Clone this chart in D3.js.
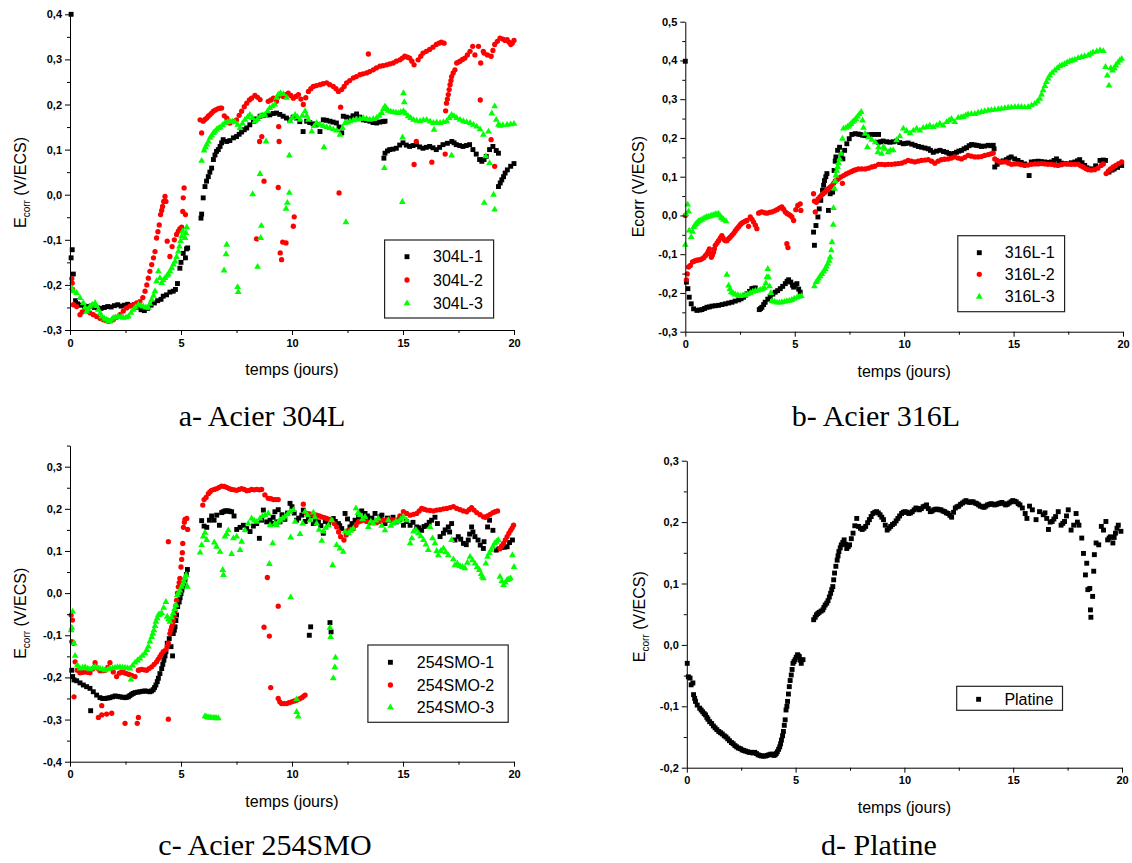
<!DOCTYPE html>
<html><head><meta charset="utf-8">
<script src="https://cdn.jsdelivr.net/npm/d3@7"></script>
<style>body{margin:0;background:#fff} svg{display:block}</style>
</head><body>
<svg id="chart" width="1132" height="863"></svg>
<script>
// ---------- DATA (t in days, E in V/ECS) ----------
const xTicks = [0,5,10,15,20];
const xMinorTicks = [2.5,7.5,12.5,17.5];
const yTicksA = [-0.3,-0.2,-0.1,0.0,0.1,0.2,0.3,0.4];
const yTicksB = [-0.3,-0.2,-0.1,0.0,0.1,0.2,0.3,0.4,0.5];
const yTicksC = [-0.4,-0.3,-0.2,-0.1,0.0,0.1,0.2,0.3];
const yTicksD = [-0.2,-0.1,0.0,0.1,0.2,0.3];

const s304L_1 = [[0.05,0.40],[0.05,-0.14],[0.1,-0.122],[0.15,-0.176],[0.25,-0.235],[0.35,-0.242],[0.5,-0.245],[0.65,-0.247],[0.8,-0.248],[0.95,-0.247],[1.1,-0.25],[1.25,-0.251],[1.4,-0.252],[1.55,-0.25],[1.7,-0.248],[1.85,-0.249],[2.0,-0.246],[2.15,-0.244],[2.3,-0.247],[2.45,-0.245],[2.6,-0.243],[2.75,-0.246],[2.9,-0.244],[3.05,-0.25],[3.2,-0.255],[3.35,-0.257],[3.5,-0.252],[3.65,-0.245],[3.8,-0.24],[3.95,-0.235],[4.1,-0.232],[4.2,-0.225],[4.35,-0.222],[4.5,-0.216],[4.65,-0.214],[4.75,-0.21],[4.84,-0.197],[4.95,-0.163],[5.0,-0.15],[5.1,-0.13],[5.2,-0.14],[5.25,-0.12],[5.3,-0.118],
[5.9,-0.052],[5.93,-0.043],[6.0,-0.007],[6.08,0.018],[6.15,0.03],[6.23,0.04],[6.3,0.05],[6.38,0.059],[6.46,0.078],[6.53,0.088],[6.6,0.096],[6.68,0.1],[6.76,0.107],[6.83,0.115],[6.9,0.122],[7.06,0.118],[7.2,0.12],[7.36,0.126],[7.5,0.129],[7.62,0.134],[7.73,0.139],[7.85,0.144],[7.96,0.148],[8.1,0.155],[8.26,0.163],[8.4,0.168],[8.56,0.174],[8.7,0.176],[8.86,0.177],[9.0,0.177],[9.15,0.18],[9.3,0.181],[9.45,0.178],[9.6,0.174],[9.75,0.17],[9.9,0.166],[10.05,0.172],[10.2,0.17],[10.35,0.162],[10.5,0.14],[10.66,0.163],[10.8,0.16],[10.95,0.157],[11.1,0.155],[11.26,0.14],[11.41,0.166],[11.55,0.165],[11.71,0.163],[11.85,0.161],[12.0,0.159],[12.12,0.15],[12.24,0.137],[12.31,0.174],[12.45,0.172],[12.61,0.17],[12.75,0.175],[12.91,0.179],[13.05,0.172],[13.21,0.166],[13.35,0.165],[13.51,0.163],[13.65,0.16],[13.81,0.159],[13.95,0.161],[14.1,0.162],[14.19,0.163],
[14.14,0.081],[14.19,0.092],[14.3,0.097],[14.4,0.1],[14.55,0.101],[14.7,0.103],[14.85,0.11],[15.0,0.115],[15.15,0.11],[15.3,0.107],[15.45,0.109],[15.6,0.111],[15.75,0.106],[15.9,0.103],[16.05,0.105],[16.2,0.107],[16.35,0.104],[16.5,0.1],[16.65,0.105],[16.8,0.111],[17.0,0.114],[17.2,0.118],[17.3,0.115],[17.4,0.111],[17.55,0.109],[17.7,0.107],[17.85,0.109],[18.0,0.111],[18.15,0.1],[18.3,0.09],[18.45,0.078],[18.55,0.074],[18.65,0.078],[18.75,0.085],[18.9,0.1],[19.05,0.107],[19.2,0.098],[19.3,0.092],
[19.3,0.018],[19.38,0.026],[19.45,0.033],[19.53,0.04],[19.6,0.048],[19.7,0.055],[19.85,0.063],[20.0,0.069]];

const s304L_2 = [[0.08,-0.186],[0.1,-0.196],[0.12,-0.21],[0.15,-0.244],[0.3,-0.248],[0.45,-0.266],[0.55,-0.26],[0.68,-0.255],[0.8,-0.258],[0.9,-0.262],[1.05,-0.266],[1.2,-0.27],[1.35,-0.274],[1.5,-0.277],[1.62,-0.279],[1.73,-0.281],[1.85,-0.279],[1.95,-0.277],[2.1,-0.272],[2.25,-0.266],[2.4,-0.258],[2.55,-0.251],[2.7,-0.247],[2.85,-0.244],[3.0,-0.24],[3.15,-0.237],[3.28,-0.228],[3.38,-0.214],[3.46,-0.2],[3.53,-0.185],[3.6,-0.17],[3.68,-0.155],[3.76,-0.14],[3.83,-0.126],[3.9,-0.096],[3.96,-0.082],[4.02,-0.067],[4.08,-0.044],[4.13,-0.035],[4.17,-0.026],[4.22,-0.015],[4.28,-0.004],[4.32,-0.015],[4.38,-0.103],[4.5,-0.137],[4.6,-0.115],[4.7,-0.1],[4.8,-0.088],[4.88,-0.081],[4.95,-0.075],[5.03,-0.072],[5.08,-0.037],[5.1,-0.007],[5.14,0.015],[5.2,-0.044],
[5.86,0.166],[5.93,0.137],[6.0,0.163],[6.08,0.167],[6.16,0.17],[6.23,0.174],[6.3,0.177],[6.38,0.181],[6.46,0.185],[6.56,0.188],[6.68,0.191],[6.76,0.192],[6.83,0.192],[6.95,0.175],[7.06,0.17],[7.2,0.159],[7.35,0.162],[7.5,0.166],[7.62,0.176],[7.73,0.185],[7.85,0.195],[7.96,0.203],[8.08,0.21],[8.18,0.214],[8.33,0.22],[8.4,-0.098],[8.45,0.216],[8.54,0.118],[8.56,0.211],[8.64,0.129],[8.74,0.03],[8.93,0.207],[9.05,0.21],[9.16,0.214],[9.3,0.207],[9.38,0.218],[9.4,0.151],[9.42,0.118],[9.38,0.016],[9.47,-0.129],[9.53,-0.144],[9.58,-0.105],[9.73,-0.107],[9.61,0.218],[9.72,0.222],[9.83,0.225],[9.95,0.22],[10.06,0.214],[10.06,-0.07],[10.1,-0.049],[10.18,0.218],[10.29,0.222],[10.4,0.212],[10.51,0.2],[10.62,0.215],[10.74,0.229],[10.85,0.235],[10.96,0.24],[11.1,0.242],[11.26,0.244],[11.4,0.246],[11.56,0.248],[11.7,0.244],[11.86,0.24],[11.98,0.235],[12.09,0.229],[12.12,0.004],[12.19,0.194],[12.24,0.233],[12.35,0.24],[12.46,0.248],[12.6,0.253],[12.76,0.259],[12.9,0.262],[13.06,0.266],[13.2,0.268],[13.36,0.27],[13.44,0.312],[13.5,0.273],[13.66,0.277],[13.8,0.281],[13.96,0.285],[14.1,0.286],[14.26,0.288],[14.4,0.29],[14.56,0.292],[14.7,0.296],[14.86,0.299],[14.97,0.303],[15.08,0.307],[15.2,0.305],[15.3,0.303],[15.4,0.296],[15.5,0.288],[15.5,0.067],[15.6,0.118],[15.68,0.299],[15.8,0.307],[15.9,0.314],[16.05,0.318],[16.2,0.322],[16.3,0.072],[16.35,0.327],[16.5,0.333],[16.62,0.336],[16.73,0.338],[16.85,0.336],[16.9,0.09],[16.92,0.186],[16.96,0.203],[17.0,0.212],[17.04,0.222],[17.08,0.233],[17.12,0.244],[17.16,0.253],[17.19,0.262],[17.26,0.27],[17.34,0.277],[17.42,0.292],[17.5,0.294],[17.57,0.296],[17.68,0.3],[17.79,0.303],[17.9,0.31],[18.02,0.318],[18.14,0.329],[18.24,0.31],[18.4,0.329],[18.48,0.21],[18.5,0.292],[18.62,0.318],[18.65,0.314],[18.8,0.31],[18.97,0.307],[18.97,0.122],[19.05,0.32],[19.13,0.333],[19.13,0.063],[19.25,0.34],[19.37,0.347],[19.5,0.345],[19.6,0.342],[19.69,0.344],[19.78,0.338],[19.85,0.333],[19.92,0.336],[20.0,0.342]];

const s304L_3 = [[0.08,-0.207],[0.15,-0.214],[0.3,-0.218],[0.45,-0.229],[0.6,-0.24],[0.68,-0.25],[0.75,-0.259],[0.82,-0.254],[0.9,-0.248],[1.0,-0.244],[1.13,-0.24],[1.2,-0.247],[1.28,-0.255],[1.36,-0.263],[1.43,-0.27],[1.55,-0.275],[1.65,-0.277],[1.73,-0.28],[1.8,-0.281],[1.88,-0.277],[1.95,-0.273],[2.05,-0.272],[2.18,-0.27],[2.3,-0.271],[2.4,-0.273],[2.52,-0.272],[2.63,-0.27],[2.75,-0.262],[2.85,-0.255],[2.95,-0.25],[3.08,-0.244],[3.2,-0.246],[3.3,-0.248],[3.42,-0.25],[3.53,-0.251],[3.6,-0.242],[3.68,-0.233],[3.76,-0.224],[3.83,-0.214],[3.9,-0.192],[3.98,-0.17],[4.05,-0.185],[4.13,-0.196],[4.2,-0.19],[4.28,-0.185],[4.36,-0.18],[4.43,-0.177],[4.5,-0.17],[4.58,-0.163],[4.66,-0.155],[4.73,-0.148],[4.8,-0.138],[4.88,-0.126],[4.93,-0.115],[4.98,-0.103],[5.03,-0.092],[5.08,-0.081],[5.18,-0.096],[5.22,-0.085],[5.26,-0.072],
[5.93,0.075],[6.04,0.098],[6.1,0.105],[6.16,0.111],[6.24,0.118],[6.31,0.126],[6.38,0.131],[6.46,0.137],[6.53,0.14],[6.6,0.144],[6.68,0.147],[6.76,0.149],[6.87,0.154],[6.94,-0.168],[6.98,0.159],[7.03,-0.132],[7.06,-0.111],[7.1,0.161],[7.2,0.163],[7.32,0.162],[7.43,0.161],[7.55,-0.205],[7.58,-0.216],[7.55,0.155],[7.66,0.148],[7.77,0.158],[7.88,0.166],[8.0,0.172],[8.1,0.177],[8.22,0.17],[8.23,0.001],[8.33,0.163],[8.45,-0.16],[8.45,0.168],[8.56,0.046],[8.56,0.174],[8.59,-0.096],[8.62,-0.069],[8.67,0.176],[8.78,0.177],[8.83,0.118],[8.9,0.185],[9.0,0.192],[9.12,0.196],[9.23,0.2],[9.31,0.215],[9.38,0.222],[9.48,0.225],[9.61,0.223],[9.73,-0.031],[9.76,0.215],[9.79,-0.018],[9.88,0.087],[9.88,0.004],[9.91,0.163],[10.02,0.17],[10.14,0.177],[10.25,0.172],[10.36,0.166],[10.47,0.175],[10.59,0.185],[10.66,0.175],[10.74,0.166],[10.89,0.14],[11.0,0.152],[11.11,0.159],[11.26,0.155],[11.41,0.152],[11.44,0.105],[11.56,0.15],[11.71,0.148],[11.86,0.145],[12.01,0.142],[12.16,0.133],[12.28,0.148],[12.39,0.159],[12.43,-0.061],[12.5,0.16],[12.61,0.163],[12.76,0.165],[12.91,0.166],[13.06,0.168],[13.21,0.17],[13.36,0.168],[13.51,0.166],[13.66,0.168],[13.81,0.17],[13.93,0.175],[14.04,0.181],[14.12,0.19],[14.16,0.059],[14.19,0.196],[14.27,0.19],[14.34,0.186],[14.45,0.184],[14.56,0.183],[14.68,0.182],[14.79,0.181],[14.9,0.183],[14.97,-0.016],[14.98,0.127],[15.02,0.185],[15.02,0.225],[15.06,0.205],[15.12,0.18],[15.23,0.174],[15.35,0.17],[15.47,0.166],[15.62,0.164],[15.77,0.163],[15.92,0.165],[16.07,0.166],[16.22,0.162],[16.37,0.159],[16.4,0.144],[16.52,0.16],[16.67,0.159],[16.82,0.161],[16.97,0.163],[17.08,0.17],[17.19,0.177],[17.19,0.087],[17.3,0.174],[17.42,0.17],[17.57,0.166],[17.72,0.163],[17.87,0.161],[18.02,0.159],[18.17,0.155],[18.32,0.151],[18.47,0.145],[18.62,0.133],[18.66,-0.018],[18.73,0.085],[18.85,0.14],[18.9,0.07],[19.0,0.18],[19.08,0.0],[19.13,0.196],[19.13,-0.033],[19.2,0.166],[19.3,0.155],[19.37,0.153],[19.5,0.154],[19.69,0.155],[19.85,0.156],[20.0,0.157]];

const s316L_1 = [[0.0,0.398],[0.05,-0.172],[0.12,-0.189],[0.18,-0.211],[0.27,-0.228],[0.38,-0.241],[0.53,-0.245],[0.65,-0.244],[0.76,-0.243],[0.88,-0.24],[0.99,-0.237],[1.1,-0.236],[1.22,-0.234],[1.37,-0.233],[1.52,-0.232],[1.68,-0.23],[1.83,-0.228],[1.98,-0.226],[2.13,-0.224],[2.28,-0.221],[2.44,-0.218],[2.55,-0.215],[2.66,-0.211],[2.74,-0.206],[2.82,-0.202],[2.93,-0.196],[3.04,-0.189],[3.12,-0.188],[3.2,-0.187],
[3.38,-0.243],[3.44,-0.24],[3.5,-0.237],[3.58,-0.23],[3.65,-0.224],[3.77,-0.216],[3.88,-0.209],[4.0,-0.203],[4.11,-0.198],[4.22,-0.194],[4.34,-0.189],[4.45,-0.183],[4.57,-0.176],[4.65,-0.17],[4.72,-0.166],[4.82,-0.172],[4.9,-0.18],[4.95,-0.185],[5.02,-0.18],[5.1,-0.176],[5.18,-0.19],[5.25,-0.198],
[5.86,-0.043],[5.9,-0.077],[5.97,-0.026],[6.06,-0.004],[6.12,0.017],[6.19,0.039],[6.27,0.065],[6.32,0.078],[6.36,0.09],[6.42,0.1],[6.47,0.108],[6.54,0.013],[6.62,0.056],[6.73,0.06],[6.8,0.116],[6.85,0.14],[6.88,0.151],[6.96,0.168],[7.05,0.176],[7.12,0.155],[7.2,0.146],[7.28,0.168],[7.38,0.185],[7.49,0.198],[7.61,0.209],[7.76,0.211],[7.9,0.21],[7.99,0.209],[8.1,0.207],[8.22,0.206],[8.37,0.208],[8.52,0.209],[8.66,0.209],[8.83,0.209],[8.82,0.189],[8.93,0.19],[9.04,0.192],[9.2,0.19],[9.35,0.189],[9.5,0.19],[9.65,0.192],[9.8,0.188],[9.96,0.185],[10.07,0.186],[10.18,0.187],[10.35,0.184],[10.5,0.181],[10.65,0.178],[10.8,0.176],[10.95,0.174],[11.1,0.172],[11.2,0.168],[11.33,0.163],[11.48,0.166],[11.64,0.168],[11.8,0.165],[11.94,0.163],[12.05,0.16],[12.16,0.157],[12.28,0.16],[12.39,0.163],[12.5,0.166],[12.62,0.168],[12.74,0.172],[12.85,0.175],[12.97,0.18],[13.08,0.183],[13.2,0.182],[13.31,0.181],[13.42,0.18],[13.53,0.178],[13.68,0.179],[13.84,0.181],[13.96,0.18],[14.07,0.181],[14.11,0.172],
[14.14,0.125],[14.25,0.132],[14.37,0.138],[14.52,0.141],[14.67,0.144],[14.78,0.148],[14.89,0.151],[15.05,0.146],[15.2,0.142],[15.35,0.137],[15.51,0.133],[15.71,0.103],[15.81,0.138],[15.97,0.139],[16.12,0.14],[16.27,0.139],[16.42,0.138],[16.57,0.137],[16.73,0.138],[16.85,0.142],[16.96,0.146],[17.08,0.14],[17.19,0.135],[17.34,0.134],[17.49,0.133],[17.64,0.136],[17.8,0.138],[17.92,0.141],[18.02,0.144],[18.13,0.136],[18.25,0.129],[18.35,0.123],[18.45,0.12],[18.6,0.12],[18.75,0.128],[18.95,0.142],[19.1,0.143],[19.2,0.142],[19.36,0.112],[19.5,0.117],[19.6,0.12],[19.75,0.124],[19.94,0.129]];

const s316L_2 = [[0.0,0.0],[0.05,-0.166],[0.09,-0.151],[0.15,-0.133],[0.23,-0.129],[0.33,-0.12],[0.41,-0.118],[0.49,-0.116],[0.58,-0.115],[0.68,-0.114],[0.76,-0.112],[0.84,-0.109],[0.92,-0.104],[0.99,-0.099],[1.05,-0.093],[1.1,-0.086],[1.15,-0.1],[1.19,-0.108],[1.24,-0.102],[1.29,-0.095],[1.33,-0.086],[1.37,-0.077],[1.45,-0.071],[1.52,-0.065],[1.6,-0.058],[1.67,-0.052],[1.72,-0.058],[1.78,-0.063],[1.84,-0.065],[1.9,-0.065],[1.98,-0.06],[2.05,-0.056],[2.13,-0.051],[2.21,-0.046],[2.28,-0.04],[2.36,-0.034],[2.44,-0.029],[2.51,-0.024],[2.58,-0.02],[2.66,-0.017],[2.74,-0.015],[2.82,-0.013],[2.89,-0.028],[2.97,-0.004],[3.05,-0.01],[3.12,-0.017],[3.2,-0.025],[3.27,-0.034],[3.35,0.006],[3.42,0.008],[3.5,0.009],[3.62,0.007],[3.73,0.006],[3.85,0.008],[3.96,0.009],[4.08,0.012],[4.19,0.015],[4.3,0.019],[4.41,0.022],[4.49,0.016],[4.57,0.009],[4.64,-0.073],[4.69,-0.083],[4.65,0.005],[4.72,0.003],[4.8,0.0],[4.87,-0.004],[4.95,-0.013],[5.05,0.015],[5.14,0.026],[5.25,0.03],[5.28,0.013],
[5.86,0.056],[5.9,0.037],[5.94,0.009],[5.99,0.034],[6.07,0.043],[6.15,0.048],[6.22,0.052],[6.3,0.056],[6.38,0.06],[6.46,0.065],[6.54,0.069],[6.62,0.073],[6.7,0.077],[6.78,0.083],[6.85,0.089],[6.93,0.092],[7.0,0.095],[7.1,0.099],[7.18,0.083],[7.23,0.103],[7.35,0.107],[7.46,0.11],[7.58,0.113],[7.69,0.116],[7.8,0.118],[7.91,0.12],[8.06,0.12],[8.22,0.12],[8.37,0.122],[8.52,0.125],[8.66,0.127],[8.83,0.132],[8.97,0.132],[9.12,0.131],[9.27,0.132],[9.42,0.132],[9.58,0.133],[9.73,0.134],[9.88,0.135],[10.03,0.138],[10.18,0.142],[10.33,0.14],[10.49,0.138],[10.64,0.14],[10.79,0.142],[10.95,0.143],[11.1,0.144],[11.25,0.14],[11.4,0.135],[11.55,0.14],[11.7,0.144],[11.85,0.145],[12.01,0.146],[12.16,0.148],[12.31,0.151],[12.47,0.148],[12.62,0.146],[12.77,0.15],[12.92,0.155],[13.07,0.153],[13.23,0.151],[13.38,0.151],[13.53,0.152],[13.68,0.155],[13.84,0.157],[13.96,0.159],[14.07,0.161],[14.14,0.146],[14.25,0.142],[14.37,0.138],[14.52,0.138],[14.67,0.138],[14.78,0.135],[14.9,0.132],[15.05,0.133],[15.2,0.133],[15.35,0.131],[15.51,0.129],[15.66,0.13],[15.81,0.132],[15.97,0.133],[16.12,0.133],[16.27,0.134],[16.42,0.133],[16.57,0.132],[16.73,0.132],[16.88,0.13],[17.03,0.129],[17.19,0.131],[17.34,0.133],[17.49,0.133],[17.64,0.132],[17.8,0.132],[17.95,0.132],[18.07,0.128],[18.18,0.125],[18.3,0.121],[18.41,0.118],[18.55,0.117],[18.7,0.118],[18.85,0.122],[19.0,0.129],[19.1,0.133],[19.23,0.108],[19.33,0.115],[19.43,0.12],[19.55,0.125],[19.67,0.129],[19.8,0.134],[19.94,0.138]];

const s316L_3 = [[0.0,-0.076],[0.03,0.003],[0.11,0.028],[0.15,0.01],[0.18,-0.039],[0.27,-0.056],[0.33,-0.042],[0.38,-0.03],[0.44,-0.026],[0.49,-0.022],[0.55,-0.018],[0.61,-0.015],[0.68,-0.013],[0.76,-0.011],[0.84,-0.008],[0.91,-0.006],[0.99,-0.004],[1.07,-0.003],[1.15,-0.002],[1.22,0.0],[1.3,0.001],[1.37,0.003],[1.45,0.003],[1.52,0.004],[1.58,0.0],[1.64,-0.006],[1.7,-0.008],[1.75,-0.011],[1.86,-0.015],
[1.9,-0.153],[1.98,-0.181],[2.04,-0.19],[2.1,-0.198],[2.19,-0.201],[2.28,-0.204],[2.4,-0.206],[2.51,-0.208],[2.62,-0.207],[2.74,-0.206],[2.85,-0.203],[2.97,-0.2],[3.08,-0.197],[3.2,-0.195],[3.31,-0.194],[3.42,-0.192],[3.53,-0.19],[3.62,-0.187],[3.68,-0.175],[3.73,-0.159],[3.77,-0.138],[3.81,-0.16],[3.85,-0.183],[3.91,-0.2],
[3.96,-0.221],[4.08,-0.223],[4.19,-0.225],[4.3,-0.225],[4.41,-0.224],[4.53,-0.223],[4.64,-0.221],[4.76,-0.22],[4.87,-0.218],[4.98,-0.215],[5.1,-0.212],[5.2,-0.21],[5.3,-0.208],
[5.9,-0.183],[5.98,-0.172],[6.04,-0.168],[6.09,-0.163],[6.16,-0.157],[6.24,-0.151],[6.32,-0.145],[6.39,-0.138],[6.45,-0.132],[6.51,-0.125],[6.57,-0.117],[6.62,-0.108],[6.67,-0.09],[6.7,-0.069],[6.76,-0.024],[6.77,0.019],[6.82,0.069],[6.85,0.088],[6.88,0.103],[6.92,0.115],[6.96,0.125],[7.0,0.135],[7.05,0.146],[7.12,0.159],[7.18,0.198],[7.23,0.224],[7.34,0.226],[7.42,0.229],[7.49,0.232],[7.57,0.236],[7.64,0.241],[7.72,0.245],[7.79,0.249],[7.87,0.255],[7.95,0.261],[8.04,0.267],[8.1,0.245],[8.14,0.226],[8.22,0.211],[8.32,0.176],[8.37,0.202],[8.52,0.195],[8.68,0.189],[8.8,0.163],[8.83,0.176],[8.97,0.159],[9.05,0.176],[9.12,0.172],[9.27,0.163],[9.37,0.168],[9.5,0.168],[9.65,0.194],[9.8,0.204],[9.96,0.224],[10.11,0.218],[10.27,0.212],[10.42,0.219],[10.57,0.224],[10.72,0.219],[10.87,0.226],[11.02,0.228],[11.17,0.232],[11.33,0.228],[11.48,0.232],[11.63,0.237],[11.78,0.232],[11.94,0.241],[12.05,0.245],[12.16,0.249],[12.31,0.241],[12.47,0.252],[12.6,0.253],[12.7,0.254],[12.82,0.258],[12.92,0.261],[13.07,0.262],[13.23,0.262],[13.38,0.265],[13.53,0.267],[13.68,0.269],[13.84,0.271],[13.99,0.272],[14.14,0.273],[14.3,0.274],[14.45,0.275],[14.6,0.277],[14.75,0.278],[14.9,0.279],[15.06,0.28],[15.21,0.28],[15.36,0.28],[15.51,0.279],[15.67,0.28],[15.82,0.284],[15.97,0.288],[16.09,0.294],[16.2,0.301],[16.28,0.312],[16.35,0.323],[16.43,0.334],[16.5,0.344],[16.58,0.353],[16.65,0.361],[16.76,0.368],[16.88,0.374],[17.0,0.38],[17.11,0.385],[17.22,0.388],[17.34,0.391],[17.45,0.395],[17.57,0.398],[17.68,0.4],[17.8,0.402],[17.95,0.406],[18.1,0.409],[18.25,0.411],[18.41,0.413],[18.52,0.417],[18.63,0.421],[18.8,0.423],[18.95,0.426],[19.1,0.424],[19.2,0.383],[19.28,0.361],[19.36,0.335],[19.44,0.38],[19.52,0.374],[19.6,0.38],[19.67,0.387],[19.76,0.394],[19.85,0.4],[19.94,0.404]];

const s254_1 = [[0.08,-0.183],[0.12,-0.198],[0.18,-0.206],[0.3,-0.208],[0.45,-0.213],[0.6,-0.218],[0.75,-0.222],[0.9,-0.226],[0.93,-0.279],[1.05,-0.234],[1.2,-0.242],[1.35,-0.248],[1.47,-0.25],[1.58,-0.25],[1.7,-0.249],[1.8,-0.248],[1.92,-0.246],[2.03,-0.244],[2.15,-0.245],[2.25,-0.246],[2.36,-0.247],[2.48,-0.248],[2.55,-0.247],[2.63,-0.246],[2.7,-0.243],[2.78,-0.24],[2.85,-0.238],[2.93,-0.236],[3.05,-0.235],[3.15,-0.234],[3.27,-0.233],[3.38,-0.232],[3.5,-0.233],[3.6,-0.234],[3.68,-0.232],[3.75,-0.229],[3.81,-0.224],[3.87,-0.218],[3.93,-0.21],[3.98,-0.202],[4.05,-0.191],[4.13,-0.179],[4.18,-0.169],[4.23,-0.159],[4.28,-0.149],[4.32,-0.139],[4.38,-0.119],[4.47,-0.108],[4.55,-0.127],[4.62,-0.149],[4.65,-0.096],[4.7,-0.088],[4.73,-0.08],[4.77,-0.065],[4.8,-0.052],[4.85,-0.032],[4.92,-0.021],[4.96,-0.011],[5.0,-0.001],[5.04,0.007],[5.08,0.015],[5.13,0.023],[5.18,0.031],[5.24,0.044],[5.29,0.056],
[5.93,0.172],[6.04,0.159],[6.16,0.156],[6.28,0.173],[6.38,0.183],[6.49,0.173],[6.61,0.185],[6.73,0.161],[6.83,0.191],[6.9,0.193],[6.98,0.195],[7.05,0.195],[7.13,0.195],[7.2,0.194],[7.28,0.193],[7.39,0.183],[7.51,0.151],[7.66,0.156],[7.81,0.161],[7.96,0.153],[8.11,0.146],[8.26,0.159],[8.41,0.165],[8.53,0.13],[8.63,0.173],[8.71,0.197],[8.86,0.169],[9.01,0.173],[9.08,0.165],[9.15,0.18],[9.23,0.193],[9.31,0.169],[9.38,0.198],[9.46,0.169],[9.55,0.186],[9.68,0.175],[9.8,0.19],[9.91,0.213],[10.0,0.205],[10.1,0.19],[10.21,0.173],[10.3,0.178],[10.44,0.185],[10.51,0.197],[10.6,0.17],[10.74,0.177],[10.78,-0.1],[10.84,-0.08],[10.85,0.183],[10.96,0.165],[11.05,0.175],[11.19,0.169],[11.3,0.16],[11.41,0.142],[11.5,0.17],[11.64,0.165],[11.71,-0.07],[11.76,-0.092],[11.86,0.177],[11.95,0.17],[12.09,0.165],[12.15,0.16],[12.24,0.153],[12.39,0.189],[12.5,0.176],[12.61,0.157],[12.7,0.165],[12.84,0.173],[13.0,0.18],[13.14,0.195],[13.29,0.189],[13.4,0.183],[13.51,0.173],[13.6,0.178],[13.74,0.189],[13.85,0.172],[13.96,0.181],[14.05,0.185],[14.19,0.165],[14.3,0.178],[14.41,0.173],[14.55,0.18],[14.71,0.169],[14.85,0.175],[15.02,0.161],[15.15,0.17],[15.32,0.161],[15.45,0.168],[15.62,0.157],[15.72,0.155],[15.84,0.149],[15.95,0.158],[16.07,0.161],[16.18,0.168],[16.29,0.173],[16.44,0.18],[16.55,0.165],[16.67,0.134],[16.82,0.142],[16.9,0.15],[17.04,0.157],[17.1,0.145],[17.19,0.165],[17.34,0.126],[17.49,0.134],[17.6,0.128],[17.72,0.118],[17.85,0.115],[17.94,0.126],[18.0,0.14],[18.09,0.157],[18.15,0.145],[18.24,0.134],[18.38,0.126],[18.48,0.114],[18.62,0.106],[18.65,0.122],[18.81,0.157],[18.9,0.173],[19.05,0.149],[19.2,0.102],[19.32,0.105],[19.45,0.108],[19.57,0.109],[19.69,0.11],[19.8,0.12],[19.93,0.126]];

const s254_2 = [[0.05,-0.052],[0.11,-0.064],[0.08,-0.115],[0.15,-0.119],[0.18,-0.246],[0.23,-0.163],[0.33,-0.183],[0.45,-0.189],[0.57,-0.188],[0.68,-0.187],[0.8,-0.188],[0.9,-0.189],[1.02,-0.18],[1.13,-0.165],[1.24,-0.178],[1.28,-0.295],[1.35,-0.184],[1.43,-0.289],[1.43,-0.267],[1.47,-0.184],[1.58,-0.183],[1.65,-0.287],[1.7,-0.176],[1.8,-0.165],[1.88,-0.285],[1.95,-0.187],[2.1,-0.198],[2.22,-0.19],[2.33,-0.187],[2.44,-0.189],[2.48,-0.309],[2.55,-0.191],[2.66,-0.193],[2.78,-0.195],[2.93,-0.198],[3.03,-0.309],[3.08,-0.183],[3.08,-0.295],[3.15,-0.182],[3.23,-0.181],[3.34,-0.182],[3.45,-0.183],[3.56,-0.179],[3.68,-0.175],[3.79,-0.169],[3.9,-0.163],[3.97,-0.157],[4.05,-0.151],[4.12,-0.145],[4.2,-0.139],[4.32,-0.134],[4.38,-0.126],[4.43,-0.119],[4.43,0.122],[4.43,-0.299],[4.5,-0.096],[4.54,-0.088],[4.58,-0.08],[4.62,-0.072],[4.65,-0.064],[4.69,-0.053],[4.73,-0.042],[4.77,-0.03],[4.8,-0.017],[4.84,0.0],[4.88,0.015],[4.92,0.025],[4.95,0.035],[5.0,0.062],[5.03,0.08],[5.06,0.096],[5.08,0.118],[5.11,0.156],[5.15,0.168],[5.18,0.175],[5.26,0.177],[5.3,0.151],
[5.98,0.209],[6.04,0.222],[6.13,0.227],[6.23,0.236],[6.3,0.24],[6.38,0.244],[6.5,0.246],[6.61,0.248],[6.72,0.251],[6.83,0.254],[6.95,0.253],[7.06,0.251],[7.17,0.248],[7.28,0.246],[7.4,0.245],[7.51,0.244],[7.62,0.246],[7.73,0.248],[7.85,0.246],[7.96,0.243],[8.07,0.244],[8.18,0.246],[8.3,0.245],[8.41,0.246],[8.52,0.245],[8.63,0.246],[8.74,-0.081],[8.78,0.233],[8.89,0.037],[8.93,0.225],[8.98,-0.102],[9.04,-0.224],[9.05,0.224],[9.16,0.222],[9.27,0.222],[9.38,0.222],[9.38,-0.031],[9.38,-0.25],[9.45,-0.258],[9.53,-0.262],[9.65,-0.262],[9.76,-0.262],[9.87,-0.26],[9.98,-0.258],[10.1,-0.256],[10.21,-0.254],[10.33,-0.251],[10.44,-0.248],[10.52,-0.245],[10.59,-0.242],[10.51,0.211],[10.66,0.189],[10.78,0.188],[10.89,0.187],[11.0,0.186],[11.11,0.185],[11.23,0.183],[11.34,0.181],[11.45,0.179],[11.56,0.177],[11.68,0.175],[11.79,0.173],[11.9,0.165],[12.01,0.157],[12.1,0.145],[12.19,0.134],[12.34,0.126],[12.44,0.138],[12.54,0.149],[12.65,0.151],[12.76,0.153],[12.88,0.161],[12.99,0.169],[13.1,0.171],[13.21,0.173],[13.36,0.17],[13.51,0.167],[13.66,0.167],[13.81,0.167],[13.96,0.17],[14.11,0.173],[14.26,0.174],[14.41,0.175],[14.56,0.174],[14.71,0.173],[14.86,0.183],[15.02,0.193],[15.17,0.189],[15.32,0.185],[15.47,0.187],[15.62,0.189],[15.73,0.195],[15.84,0.201],[15.95,0.199],[16.07,0.197],[16.22,0.196],[16.37,0.195],[16.52,0.197],[16.67,0.198],[16.82,0.2],[16.97,0.201],[17.12,0.203],[17.27,0.205],[17.42,0.201],[17.57,0.198],[17.72,0.195],[17.87,0.193],[17.98,0.198],[18.09,0.203],[18.2,0.197],[18.32,0.191],[18.47,0.186],[18.62,0.181],[18.72,0.18],[18.81,0.183],[18.93,0.187],[19.05,0.191],[19.15,0.193],[19.26,0.195],[19.37,0.106],[19.45,0.112],[19.53,0.118],[19.61,0.126],[19.69,0.134],[19.77,0.142],[19.85,0.149],[19.92,0.155],[19.98,0.161]];

const s254_3 = [[0.05,-0.088],[0.08,-0.082],[0.12,-0.044],[0.18,-0.119],[0.23,-0.149],[0.33,-0.171],[0.45,-0.179],[0.57,-0.177],[0.68,-0.176],[0.8,-0.179],[0.9,-0.181],[1.02,-0.178],[1.13,-0.175],[1.24,-0.177],[1.35,-0.179],[1.47,-0.181],[1.58,-0.183],[1.7,-0.181],[1.8,-0.179],[1.92,-0.178],[2.03,-0.177],[2.14,-0.176],[2.25,-0.176],[2.36,-0.177],[2.48,-0.177],[2.59,-0.178],[2.7,-0.179],[2.75,-0.205],[2.82,-0.172],[2.93,-0.165],[3.04,-0.16],[3.15,-0.155],[3.26,-0.149],[3.38,-0.143],[3.46,-0.135],[3.53,-0.127],[3.6,-0.115],[3.68,-0.104],[3.73,-0.096],[3.78,-0.088],[3.83,-0.078],[3.87,-0.068],[3.93,-0.06],[3.98,-0.052],[4.05,-0.05],[4.13,-0.047],[4.22,-0.035],[4.32,-0.021],[4.38,-0.056],[4.44,-0.062],[4.5,-0.068],[4.58,-0.058],[4.65,-0.048],[4.71,-0.038],[4.77,-0.028],[4.83,-0.005],[4.89,0.0],[4.95,0.006],[5.03,0.015],[5.08,0.021],[5.14,0.027],[5.19,0.035],[5.23,0.043],[5.29,0.015],
[5.86,0.096],[5.93,0.114],[6.0,0.134],[6.08,0.143],[6.08,-0.292],[6.16,0.126],[6.16,-0.294],[6.23,-0.295],[6.31,-0.295],[6.38,-0.296],[6.46,-0.296],[6.53,-0.296],[6.6,-0.297],[6.68,-0.297],[6.5,0.12],[6.6,0.11],[6.76,0.098],[6.88,0.055],[6.91,0.043],[6.98,0.134],[7.06,0.14],[7.13,0.149],[7.28,0.093],[7.36,0.13],[7.51,0.134],[7.66,0.102],[7.73,0.122],[7.88,0.149],[8.03,0.165],[8.18,0.177],[8.3,0.172],[8.41,0.169],[8.56,0.177],[8.67,0.182],[8.78,0.185],[8.93,0.189],[8.98,0.069],[9.01,0.161],[9.13,0.118],[9.23,0.165],[9.31,0.161],[9.38,0.169],[9.46,0.173],[9.57,0.177],[9.68,0.181],[9.8,0.187],[9.91,0.193],[9.94,0.132],[9.94,-0.01],[10.06,0.197],[10.14,0.169],[10.21,-0.252],[10.21,-0.282],[10.28,-0.293],[10.36,0.14],[10.48,0.165],[10.59,0.193],[10.7,0.185],[10.81,0.173],[10.96,0.191],[11.03,0.18],[11.11,0.165],[11.22,0.15],[11.34,0.124],[11.41,0.146],[11.52,0.155],[11.64,0.161],[11.71,-0.082],[11.74,-0.104],[11.79,0.173],[11.83,0.066],[11.86,-0.202],[11.93,-0.176],[11.96,-0.153],[12.01,0.114],[12.16,0.106],[12.31,0.098],[12.39,0.146],[12.54,0.142],[12.65,0.148],[12.76,0.153],[12.88,0.201],[12.97,0.19],[13.06,0.185],[13.18,0.175],[13.29,0.181],[13.44,0.157],[13.55,0.17],[13.66,0.165],[13.77,0.172],[13.89,0.177],[14.04,0.16],[14.19,0.149],[14.34,0.173],[14.45,0.16],[14.56,0.165],[14.68,0.17],[14.79,0.169],[14.9,0.175],[15.02,0.181],[15.17,0.173],[15.32,0.118],[15.4,0.13],[15.47,0.146],[15.58,0.15],[15.69,0.142],[15.8,0.135],[15.92,0.126],[16.03,0.115],[16.14,0.102],[16.22,0.157],[16.33,0.13],[16.44,0.118],[16.52,0.1],[16.59,0.09],[16.7,0.1],[16.82,0.106],[16.93,0.097],[17.04,0.09],[17.19,0.126],[17.27,0.08],[17.34,0.066],[17.45,0.07],[17.57,0.064],[17.68,0.062],[17.79,0.059],[17.9,0.072],[18.02,0.086],[18.13,0.078],[18.24,0.07],[18.34,0.062],[18.44,0.055],[18.52,0.045],[18.62,0.035],[18.57,0.039],[18.73,0.07],[18.81,0.086],[18.89,0.095],[18.97,0.102],[19.05,0.11],[19.13,0.118],[19.21,0.122],[19.29,0.126],[19.37,0.039],[19.45,0.028],[19.53,0.019],[19.61,0.025],[19.69,0.031],[19.77,0.033],[19.85,0.035],[19.93,0.09],[20.0,0.062]];

const sPlatine = [[0.02,-0.03],[0.07,-0.052],[0.15,-0.054],[0.2,-0.065],[0.28,-0.062],[0.31,-0.081],[0.36,-0.087],[0.4,-0.092],[0.48,-0.098],[0.59,-0.103],[0.66,-0.106],[0.73,-0.109],[0.8,-0.112],[0.86,-0.114],[0.92,-0.118],[0.97,-0.121],[1.05,-0.125],[1.14,-0.128],[1.22,-0.132],[1.3,-0.135],[1.38,-0.138],[1.47,-0.141],[1.55,-0.143],[1.63,-0.145],[1.72,-0.148],[1.8,-0.15],[1.88,-0.153],[1.96,-0.156],[2.05,-0.159],[2.13,-0.161],[2.21,-0.164],[2.29,-0.166],[2.37,-0.168],[2.46,-0.169],[2.54,-0.171],[2.62,-0.172],[2.7,-0.173],[2.79,-0.174],[2.87,-0.175],[2.95,-0.175],[3.04,-0.176],[3.12,-0.175],[3.2,-0.177],[3.28,-0.179],[3.36,-0.18],[3.44,-0.181],[3.53,-0.181],[3.61,-0.181],[3.69,-0.18],[3.77,-0.179],[3.86,-0.178],[3.94,-0.178],[4.0,-0.18],[4.06,-0.179],[4.11,-0.177],[4.16,-0.174],[4.22,-0.17],[4.27,-0.166],[4.31,-0.161],[4.35,-0.155],[4.4,-0.148],[4.44,-0.141],[4.48,-0.131],[4.52,-0.122],[4.56,-0.106],[4.6,-0.1],[4.63,-0.092],[4.67,-0.08],[4.71,-0.068],[4.75,-0.058],[4.8,-0.049],[4.84,-0.04],[4.88,-0.03],[4.93,-0.027],[4.98,-0.024],[5.03,-0.02],[5.09,-0.016],[5.13,-0.018],[5.17,-0.019],[5.22,-0.025],[5.26,-0.03],[5.34,-0.024],
[5.83,0.041],[5.9,0.045],[5.96,0.049],[6.02,0.051],[6.08,0.053],[6.17,0.055],[6.25,0.057],[6.3,0.061],[6.36,0.065],[6.43,0.068],[6.49,0.072],[6.55,0.078],[6.61,0.084],[6.66,0.09],[6.71,0.095],[6.75,0.106],[6.79,0.117],[6.85,0.128],[6.91,0.138],[6.95,0.145],[6.99,0.152],[7.05,0.158],[7.1,0.163],[7.17,0.167],[7.23,0.171],[7.29,0.164],[7.35,0.157],[7.42,0.16],[7.48,0.163],[7.56,0.173],[7.64,0.182],[7.72,0.194],[7.81,0.206],[7.89,0.193],[7.98,0.19],[8.06,0.188],[8.14,0.19],[8.22,0.193],[8.31,0.199],[8.39,0.204],[8.47,0.209],[8.55,0.214],[8.64,0.216],[8.72,0.217],[8.8,0.215],[8.88,0.212],[8.96,0.208],[9.04,0.204],[9.12,0.195],[9.21,0.187],[9.29,0.19],[9.37,0.193],[9.45,0.196],[9.54,0.198],[9.62,0.202],[9.7,0.206],[9.78,0.21],[9.87,0.214],[9.95,0.216],[10.03,0.217],[10.11,0.216],[10.2,0.214],[10.28,0.215],[10.36,0.217],[10.45,0.22],[10.53,0.223],[10.61,0.222],[10.69,0.22],[10.78,0.222],[10.86,0.225],[10.94,0.226],[11.02,0.228],[11.1,0.222],[11.19,0.217],[11.27,0.218],[11.35,0.22],[11.44,0.221],[11.52,0.221],[11.6,0.22],[11.68,0.22],[11.77,0.218],[11.85,0.217],[11.93,0.215],[12.01,0.214],[12.09,0.211],[12.17,0.208],[12.26,0.216],[12.34,0.223],[12.42,0.225],[12.5,0.226],[12.58,0.229],[12.67,0.231],[12.75,0.233],[12.83,0.235],[12.92,0.233],[13.0,0.232],[13.08,0.233],[13.16,0.233],[13.25,0.231],[13.33,0.23],[13.41,0.228],[13.49,0.226],[13.58,0.225],[13.66,0.224],[13.74,0.226],[13.82,0.228],[13.9,0.229],[13.99,0.23],[14.07,0.229],[14.15,0.228],[14.24,0.229],[14.32,0.23],[14.4,0.231],[14.48,0.232],[14.57,0.23],[14.65,0.228],[14.73,0.229],[14.81,0.231],[14.9,0.233],[14.98,0.235],[15.06,0.234],[15.14,0.233],[15.23,0.23],[15.31,0.228],[15.42,0.223],[15.55,0.214],[15.63,0.206],[15.75,0.226],[15.88,0.22],[16.05,0.204],[16.21,0.217],[16.38,0.212],[16.46,0.215],[16.54,0.206],[16.62,0.188],[16.7,0.2],[16.79,0.201],[16.87,0.205],[16.95,0.209],[17.07,0.217],[17.2,0.195],[17.28,0.198],[17.36,0.201],[17.45,0.21],[17.53,0.22],[17.66,0.187],[17.78,0.195],[17.89,0.214],[17.95,0.2],[18.02,0.195],[18.15,0.174],[18.23,0.149],[18.32,0.114],[18.38,0.133],[18.43,0.09],[18.52,0.092],[18.55,0.057],[18.57,0.045],[18.65,0.079],[18.7,0.12],[18.73,0.147],[18.81,0.166],[18.93,0.163],[19.05,0.193],[19.15,0.187],[19.26,0.201],[19.34,0.171],[19.41,0.174],[19.47,0.176],[19.58,0.166],[19.64,0.175],[19.7,0.182],[19.77,0.19],[19.83,0.195],[19.95,0.185]];

// ---------- RENDER ----------
const svg = d3.select('#chart');
const SANS = '"Liberation Sans", Arial, Helvetica, sans-serif';
const SERIF = '"Liberation Serif", "Times New Roman", serif';
const fmtY = v => {
  const r = Math.round(v*10)/10;
  return (r < 0 ? '-' : '') + Math.abs(r).toFixed(1).replace('.', ',');
};
const symType = {square: d3.symbolSquare, circle: d3.symbolCircle, triangle: d3.symbolTriangle};
const symSize = {square: 24, circle: 22, triangle: 20};
const colBlack = '#000000', colRed = '#ff0000', colGreen = '#00ff00';

function minorOf(major, extraTop){
  const m = [];
  for (let i=0;i<major.length-1;i++) m.push((major[i]+major[i+1])/2);
  if (extraTop !== undefined) m.push(extraTop);
  return m;
}

const panels = [
  {left:70, right:514, top:14.3, bottom:330, yDom:[-0.3,0.4], yMajor:yTicksA, yMinor:minorOf(yTicksA),
   series:[{d:s304L_1,n:'304L-1',t:'square',c:colBlack},{d:s304L_2,n:'304L-2',t:'circle',c:colRed},{d:s304L_3,n:'304L-3',t:'triangle',c:colGreen}],
   legend:{x:384.6,y:240,w:109,h:78,rows:[256.7,280,303.3],mx:407,tx:433},
   ylab:{x:19.6,y:182.5,sub:true}, cap:{t:'a- Acier 304L',x:262,y:426}},
  {left:685.3, right:1123, top:21.7, bottom:331.7, yDom:[-0.3,0.5], yMajor:yTicksB, yMinor:minorOf(yTicksB),
   series:[{d:s316L_1,n:'316L-1',t:'square',c:colBlack},{d:s316L_2,n:'316L-2',t:'circle',c:colRed},{d:s316L_3,n:'316L-3',t:'triangle',c:colGreen}],
   legend:{x:957.8,y:235.7,w:106.8,h:76,rows:[252.7,274.3,296.7],mx:979.3,tx:1004.8},
   ylab:{x:638,y:186.7,sub:false}, cap:{t:'b- Acier 316L',x:876,y:426}},
  {left:70, right:514, top:445.6, bottom:761.7, yDom:[-0.4,0.35], yMajor:yTicksC, yMinor:minorOf(yTicksC,0.35),
   series:[{d:s254_1,n:'254SMO-1',t:'square',c:colBlack},{d:s254_2,n:'254SMO-2',t:'circle',c:colRed},{d:s254_3,n:'254SMO-3',t:'triangle',c:colGreen}],
   legend:{x:367.9,y:645,w:140.3,h:77.3,rows:[662.3,685,707.3],mx:390.4,tx:416.8},
   ylab:{x:19.6,y:613.3,sub:true}, cap:{t:'c- Acier 254SMO',x:265,y:855}},
  {left:686.8, right:1122, top:460.7, bottom:767.7, yDom:[-0.2,0.3], yMajor:yTicksD, yMinor:minorOf(yTicksD),
   series:[{d:sPlatine,n:'Platine',t:'square',c:colBlack}],
   legend:{x:956.7,y:686.3,w:105.8,h:24,rows:[699.3],mx:978.6,tx:1004.4},
   ylab:{x:639,y:616.7,sub:true}, cap:{t:'d- Platine',x:879,y:855}}
];

panels.forEach(p => {
  const x = d3.scaleLinear().domain([0,20]).range([p.left,p.right]);
  const y = d3.scaleLinear().domain(p.yDom).range([p.bottom,p.top]);
  const g = svg.append('g');

  // data markers
  p.series.forEach(s => {
    const sym = d3.symbol().type(symType[s.t]).size(symSize[s.t]);
    g.append('g').selectAll('path').data(s.d).join('path')
      .attr('d', sym)
      .attr('transform', d => `translate(${x(d[0])},${y(d[1])})`)
      .attr('fill', s.c);
  });

  // axes
  g.append('g').attr('transform', `translate(0,${p.bottom})`)
    .call(d3.axisBottom(x).tickValues(xTicks).tickFormat(d => String(d)).tickSize(5).tickSizeOuter(0).tickPadding(4));
  g.append('g').attr('transform', `translate(0,${p.bottom})`)
    .call(d3.axisBottom(x).tickValues(xMinorTicks).tickFormat('').tickSize(3).tickSizeOuter(0))
    .select('.domain').remove();
  g.append('g').attr('transform', `translate(${p.left},0)`)
    .call(d3.axisLeft(y).tickValues(p.yMajor).tickFormat(fmtY).tickSize(5).tickSizeOuter(0).tickPadding(3));
  g.append('g').attr('transform', `translate(${p.left},0)`)
    .call(d3.axisLeft(y).tickValues(p.yMinor).tickFormat('').tickSize(3).tickSizeOuter(0))
    .select('.domain').remove();
  g.selectAll('.domain, .tick line').attr('stroke', '#000').attr('stroke-width', 1);
  g.selectAll('.tick text').attr('font-family', SANS).attr('font-weight', 'bold').attr('font-size', 11).attr('fill', '#000');

  // x title
  g.append('text').attr('x', (p.left+p.right)/2).attr('y', p.bottom + 45)
    .attr('text-anchor','middle').attr('font-family', SANS).attr('font-size', 16).text('temps (jours)');

  // y title
  const yt = g.append('text').attr('transform', `translate(${p.ylab.x+6},${p.ylab.y}) rotate(-90)`)
    .attr('text-anchor','middle').attr('font-family', SANS).attr('font-size', 16);
  if (p.ylab.sub) {
    yt.append('tspan').text('E');
    yt.append('tspan').attr('font-size', 10).attr('dy', 4).text('corr');
    yt.append('tspan').attr('dy', -4).text(' (V/ECS)');
  } else {
    yt.text('Ecorr (V/ECS)');
  }

  // legend
  const L = p.legend;
  g.append('rect').attr('x', L.x).attr('y', L.y).attr('width', L.w).attr('height', L.h)
    .attr('fill', '#fff').attr('stroke', '#222').attr('stroke-width', 1.2);
  p.series.forEach((s, i) => {
    g.append('path').attr('d', d3.symbol().type(symType[s.t]).size(symSize[s.t])())
      .attr('transform', `translate(${L.mx},${L.rows[i]})`).attr('fill', s.c);
    g.append('text').attr('x', L.tx).attr('y', L.rows[i]).attr('dy', '0.35em')
      .attr('font-family', SANS).attr('font-size', 16).text(s.n);
  });

  // caption
  g.append('text').attr('x', p.cap.x).attr('y', p.cap.y).attr('text-anchor','middle')
    .attr('font-family', SERIF).attr('font-size', 30).text(p.cap.t);
});
</script>
</body></html>
